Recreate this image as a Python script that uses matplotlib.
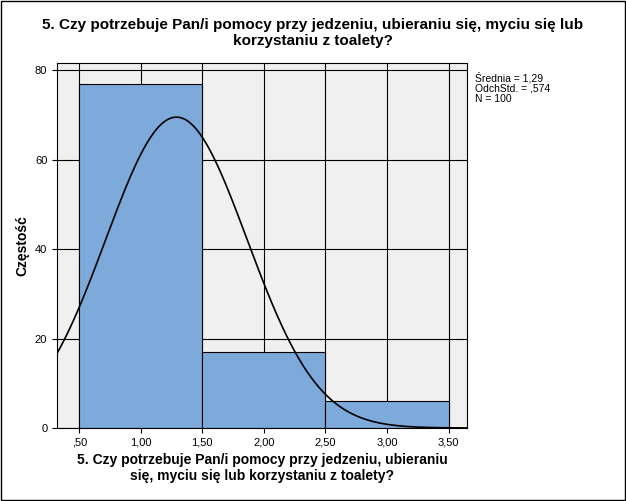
import numpy as np
import matplotlib
matplotlib.use("Agg")
import matplotlib.pyplot as plt
from matplotlib.patches import Rectangle

bin_edges = [0.5, 1.5, 2.5, 3.5]
counts = [77, 17, 6]
mean, sd, n = 1.29, 0.574, 100
xticks = [0.5, 1.0, 1.5, 2.0, 2.5, 3.0, 3.5]
xticklabels = [",50", "1,00", "1,50", "2,00", "2,50", "3,00", "3,50"]
yticks = [0, 20, 40, 60, 80]
title = "5. Czy potrzebuje Pan/i pomocy przy jedzeniu, ubieraniu się, myciu się lub\nkorzystaniu z toalety?"
xlabel = "5. Czy potrzebuje Pan/i pomocy przy jedzeniu, ubieraniu\nsię, myciu się lub korzystaniu z toalety?"

plt.rcParams['font.family'] = ['Liberation Sans', 'DejaVu Sans']
fig = plt.figure(figsize=(6.26, 5.01), dpi=100)
fig.patch.set_facecolor('white')
fig.add_artist(Rectangle((0.001, 0.001), 0.997, 0.997, transform=fig.transFigure,
                         fill=False, edgecolor='black', lw=1))
ax = fig.add_axes([57/626, 73/501, 410/626, 365/501])
ax.set_facecolor('#f0f0f0')
ax.set_xlim(0.32, 3.65)
ax.set_ylim(0, 81.6)
ax.set_xticks(xticks)
ax.set_xticklabels(xticklabels, fontsize=8)
ax.set_yticks(yticks)
ax.set_yticklabels([str(v) for v in yticks], fontsize=8)
ax.grid(True, color='black', lw=0.8)
ax.set_axisbelow(True)
widths = np.diff(bin_edges)
ax.bar(bin_edges[:-1], counts, width=widths, align='edge', color='#7DAADB',
       edgecolor='black', lw=0.8, zorder=2)
xs = np.linspace(0.32, 3.65, 400)
ys = n * 1.0 * np.exp(-0.5 * ((xs - mean) / sd) ** 2) / (sd * np.sqrt(2 * np.pi))
ax.plot(xs, ys, color='black', lw=1.2, zorder=3)
for s in ax.spines.values():
    s.set_linewidth(0.8)
ax.set_ylabel("Częstość", fontsize=10, fontweight='bold')
ax.set_xlabel(xlabel, fontsize=10, fontweight='bold')
fig.text(0.5, 0.965, title, ha='center', va='top', fontsize=11, fontweight='bold')
fig.text(475/626, 1 - 72/501, "Średnia = 1,29\nOdchStd. = ,574\nN = 100",
         ha='left', va='top', fontsize=7.5, linespacing=1.0)
fig.savefig("out.png", dpi=100)
